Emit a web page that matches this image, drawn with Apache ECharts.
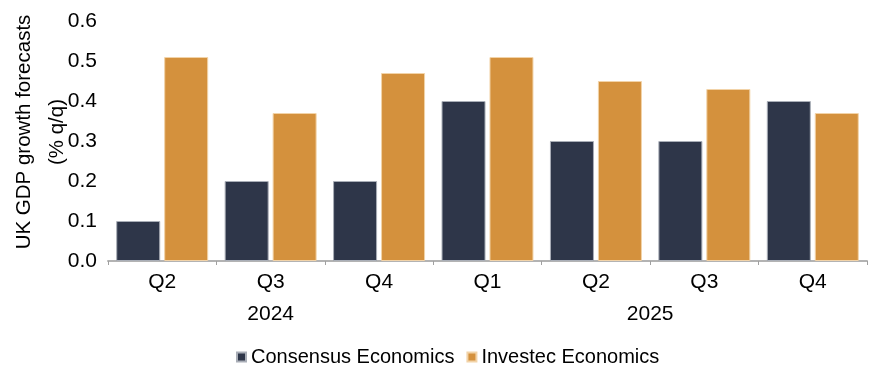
<!DOCTYPE html>
<html>
<head>
<meta charset="utf-8">
<style>
  html, body { margin: 0; padding: 0; background: #ffffff; }
  #chart { width: 876px; height: 369px; }
</style>
<script src="https://cdn.jsdelivr.net/npm/echarts@6/dist/echarts.min.js"></script>
</head>
<body>
<div id="chart"></div>
<script>
// Quarter labels along the category axis
const quarters = ['Q2', 'Q3', 'Q4', 'Q1', 'Q2', 'Q3', 'Q4'];
// Year groups and how many quarters each one spans
const years = ['2024', '2025'];
const yearQuarterCounts = [3, 4];
// GDP growth forecasts, % q/q
const consensus = [0.1, 0.2, 0.2, 0.4, 0.3, 0.3, 0.4];
const investec = [0.51, 0.37, 0.47, 0.51, 0.45, 0.43, 0.37];
// Value axis range
const yMin = 0, yMax = 0.6, yStep = 0.1;

const FONT = "'Liberation Sans', Arial, sans-serif";

// Year labels sit at the middle of their quarter span, measured in half-category units
const yearCentres = {};
let start = 0;
years.forEach((y, i) => {
  yearCentres[2 * start + yearQuarterCounts[i]] = y;
  start += yearQuarterCounts[i];
});

const chart = echarts.init(document.getElementById('chart'), null, { renderer: 'canvas' });

chart.setOption({
  animation: false,
  textStyle: { fontFamily: FONT },
  grid: { left: 108, right: 9, top: 21, bottom: 108, containLabel: false, outerBoundsMode: 'none' },
  legend: {
    left: 236,
    top: 347,
    icon: 'rect',
    itemWidth: 9,
    itemHeight: 9,
    itemGap: 12,
    itemTextGap: 3,
    padding: 0,
    textStyle: { fontSize: 20, color: '#000', fontFamily: FONT }
  },
  xAxis: [
    {
      type: 'category',
      data: quarters,
      boundaryGap: true,
      axisLine: { lineStyle: { color: '#b3b3b3', width: 2 } },
      axisTick: { show: true, alignWithLabel: false, length: 4, lineStyle: { color: '#a0a0a0', width: 1 } },
      axisLabel: { fontSize: 21, color: '#000', margin: 11, fontFamily: FONT },
      splitLine: { show: false }
    },
    {
      type: 'value',
      position: 'bottom',
      min: 0,
      max: quarters.length * 2,
      interval: 1,
      axisLine: { show: false },
      axisTick: { show: false },
      splitLine: { show: false },
      axisLabel: {
        fontSize: 21,
        color: '#000',
        margin: 43,
        fontFamily: FONT,
        showMinLabel: true,
        showMaxLabel: true,
        formatter: v => yearCentres[v] || ''
      }
    }
  ],
  yAxis: {
    type: 'value',
    min: yMin,
    max: yMax,
    interval: yStep,
    name: 'UK GDP growth forecasts\n(% q/q)',
    nameLocation: 'middle',
    nameGap: 34,
    nameMoveOverlap: false,
    nameTextStyle: { fontSize: 20.5, color: '#000', lineHeight: 33, fontFamily: FONT, padding: [0, 0, 0, 18] },
    axisLine: { show: false },
    axisTick: { show: false },
    splitLine: { show: false },
    axisLabel: { fontSize: 21, color: '#000', margin: 11, fontFamily: FONT, formatter: v => v.toFixed(1) }
  },
  series: [
    {
      name: 'Consensus Economics',
      type: 'bar',
      data: consensus,
      barWidth: 44,
      barGap: '9%',
      itemStyle: { color: '#2e3649', borderColor: '#a9aeb7', borderWidth: 1 }
    },
    {
      name: 'Investec Economics',
      type: 'bar',
      data: investec,
      barWidth: 44,
      barGap: '9%',
      itemStyle: { color: '#d4913d', borderColor: '#f2d3a8', borderWidth: 1 }
    }
  ]
});
</script>
</body>
</html>
